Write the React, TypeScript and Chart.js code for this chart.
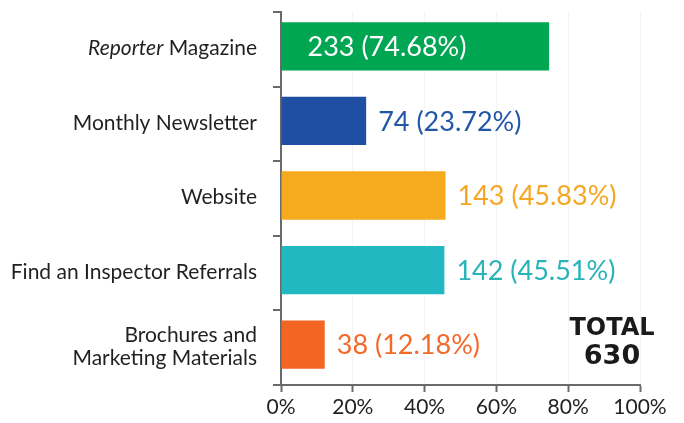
import React, { useEffect, useRef } from "react";
import { Chart, registerables } from "chart.js";

Chart.register(...registerables);

const categories: (string | string[])[] = [
  "Reporter Magazine",
  "Monthly Newsletter",
  "Website",
  "Find an Inspector Referrals",
  ["Brochures and", "Marketing Materials"],
];
const italicPrefixes: string[] = ["Reporter", "", "", "", ""];
const counts: number[] = [233, 74, 143, 142, 38];
const percents: number[] = [74.68, 23.72, 45.83, 45.51, 12.18];
const barColors: string[] = ["#00a651", "#1f4fa3", "#f6ab1f", "#22b8c1", "#f26522"];
const labelColors: string[] = ["#ffffff", "#2257a8", "#f5a623", "#28b3b9", "#f26a2a"];
const xTicks: number[] = [0, 20, 40, 60, 80, 100];
const totalTitle = "TOTAL";
const totalValue = 630;

const FONT = "Lato, 'Noto Sans', sans-serif";
const BAR_SHIFT = -3;

const yLabelPlugin = {
  id: "yLabels",
  afterDraw(chart: any) {
    const ctx = chart.ctx;
    const y = chart.scales.y;
    const xRight = y.right - 24;
    ctx.save();
    ctx.fillStyle = "#231f20";
    ctx.textBaseline = "middle";
    categories.forEach((cat, i) => {
      const lines = Array.isArray(cat) ? cat : [cat];
      const cy = y.getPixelForValue(i) - 1;
      const lh = 23;
      lines.forEach((line, j) => {
        const ly = cy + (j - (lines.length - 1) / 2) * lh;
        const prefix = italicPrefixes[i];
        if (prefix && line.startsWith(prefix)) {
          const rest = line.slice(prefix.length);
          ctx.font = `400 21px ${FONT}`;
          ctx.textAlign = "right";
          ctx.fillText(rest, xRight, ly);
          const w = ctx.measureText(rest).width;
          ctx.font = `italic 400 21px ${FONT}`;
          ctx.fillText(prefix, xRight - w, ly);
        } else {
          ctx.font = `400 21px ${FONT}`;
          ctx.textAlign = "right";
          ctx.fillText(line, xRight, ly);
        }
      });
    });
    ctx.restore();
  },
};

const shiftPlugin = {
  id: "barShift",
  beforeDatasetsDraw(chart: any) {
    chart.ctx.save();
    chart.ctx.translate(0, BAR_SHIFT);
  },
  afterDatasetsDraw(chart: any) {
    chart.ctx.restore();
  },
};

const valueLabelPlugin = {
  id: "valueLabels",
  afterDatasetsDraw(chart: any) {
    const ctx = chart.ctx;
    const meta = chart.getDatasetMeta(0);
    ctx.save();
    ctx.font = `400 27px ${FONT}`;
    ctx.textBaseline = "middle";
    ctx.textAlign = "left";
    meta.data.forEach((bar: any, i: number) => {
      const text = `${counts[i]} (${percents[i].toFixed(2)}%)`;
      const inside = percents[i] > 60;
      ctx.fillStyle = labelColors[i];
      const x = inside ? bar.base + 26 : bar.x + 12;
      ctx.fillText(text, x, bar.y + BAR_SHIFT + 1);
    });
    ctx.restore();
  },
};

const totalPlugin = {
  id: "totalText",
  afterDraw(chart: any) {
    const ctx = chart.ctx;
    const a = chart.chartArea;
    const cx = a.right - 28;
    ctx.save();
    ctx.fillStyle = "#1a1a1a";
    ctx.textAlign = "center";
    ctx.textBaseline = "middle";
    ctx.font = `bold 24px 'DejaVu Sans', sans-serif`;
    ctx.fillText(totalTitle, cx, a.bottom - 56);
    ctx.font = `bold 27px 'DejaVu Sans', sans-serif`;
    ctx.fillText(String(totalValue), cx, a.bottom - 28);
    ctx.restore();
  },
};

export default function App() {
  const ref = useRef<HTMLCanvasElement | null>(null);
  useEffect(() => {
    document.body.style.margin = "0";
    const canvas = ref.current;
    if (!canvas) return;
    const chart = new Chart(canvas, {
      type: "bar",
      data: {
        labels: categories.map((c) => (Array.isArray(c) ? c.join(" ") : c)),
        datasets: [
          {
            data: percents,
            backgroundColor: barColors,
            borderWidth: 0,
            barPercentage: 0.72,
            categoryPercentage: 0.9,
          },
        ],
      },
      options: {
        indexAxis: "y",
        responsive: false,
        devicePixelRatio: 1,
        animation: false,
        layout: { padding: { top: 12, right: 44, left: 0, bottom: 0 } },
        plugins: { legend: { display: false }, tooltip: { enabled: false }, title: { display: false } },
        scales: {
          x: {
            min: 0,
            max: 100,
            afterBuildTicks: (s: any) => {
              s.ticks = xTicks.map((v) => ({ value: v }));
            },
            ticks: {
              callback: (v: any) => `${v}%`,
              color: "#231f20",
              font: { family: FONT, size: 21 },
              padding: 3,
              maxRotation: 0,
            },
            grid: {
              display: true,
              drawOnChartArea: true,
              color: "#f4f4f4",
              tickColor: "#6a6a6a",
              tickLength: 7,
              lineWidth: 1,
              tickWidth: 2,
            },
            border: { display: true, color: "#6a6a6a", width: 2 },
            afterFit: (s: any) => {
              s.height = 38;
            },
          },
          y: {
            ticks: { display: false },
            grid: {
              display: true,
              drawOnChartArea: false,
              offset: true,
              tickColor: "#6a6a6a",
              tickLength: 8,
              lineWidth: 2,
            },
            border: { display: true, color: "#6a6a6a", width: 2 },
            afterFit: (s: any) => {
              s.width = 281;
            },
          },
        },
      },
      plugins: [shiftPlugin, valueLabelPlugin, yLabelPlugin, totalPlugin],
    });
    return () => chart.destroy();
  }, []);
  return (
    <div style={{ width: 684, height: 423, background: "#fff" }}>
      <canvas ref={ref} width={684} height={423} />
    </div>
  );
}
